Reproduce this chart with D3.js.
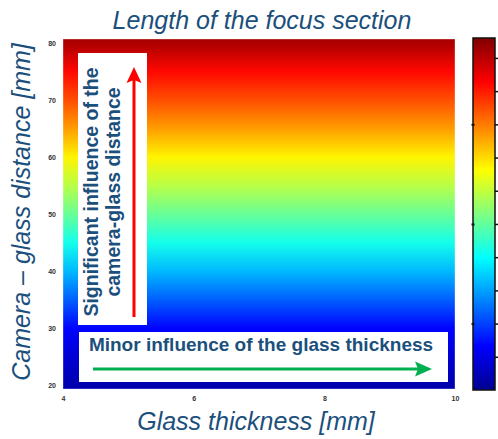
<!DOCTYPE html>
<html>
<head>
<meta charset="utf-8">
<script src="https://cdn.jsdelivr.net/npm/d3@7/dist/d3.min.js"></script>
<style>
  html, body { margin: 0; padding: 0; background: #fff; }
  svg { display: block; }
</style>
</head>
<body>
<svg id="chart" width="498" height="439"></svg>
<script>
// ---- data ----
const thicknessTicks = [4, 6, 8, 10];                 // glass thickness [mm]
const distanceTicks = [20, 30, 40, 50, 60, 70, 80];   // camera-glass distance [mm]
const distances = [20, 25, 30, 35, 40, 45, 50, 55, 60, 65, 70, 75, 80];
const focusLength = [6.9, 9.1, 11.8, 16.6, 21.3, 25.9, 30.3, 34.5, 38.7, 43.2, 47.3, 51.0, 55.7];
const colorDomain = [5, 58];
const colorTicksMajor = [15, 30, 45];
const colorTicksMinor = [10, 20, 25, 35, 40, 50, 55];
const jetStops = [0, 0.125, 0.375, 0.625, 0.875, 1];
const jetColors = ["#00008f", "#0000ff", "#00ffff", "#ffff00", "#ff0000", "#800000"];

const titleText = "Length of the focus section";
const xLabel = "Glass thickness [mm]";
const yLabel = "Camera \u2013 glass distance [mm]";
const note1 = ["Significant influence of the", "camera-glass distance"];
const note2 = "Minor influence of the glass thickness";

// ---- layout ----
const svg = d3.select("#chart");
const plot = { left: 63, right: 455, top: 39, bottom: 389 };
const textBlue = "#1b4f7c";
const font = "Liberation Sans, Arial, sans-serif";

const x = d3.scaleLinear().domain([4, 10]).range([plot.left, plot.right]);
const y = d3.scaleLinear().domain([19.3, 80.7]).range([plot.bottom, plot.top]);
const norm = d3.scaleLinear().domain(colorDomain).range([0, 1]);
const jet = d3.scaleLinear().domain(jetStops).range(jetColors).interpolate(d3.interpolateRgb).clamp(true);
const color = v => jet(norm(v));

const defs = svg.append("defs");

// heatmap gradient (vertical, from data rows)
const hg = defs.append("linearGradient").attr("id", "heat")
  .attr("x1", 0).attr("y1", 0).attr("x2", 0).attr("y2", 1);
const rows = distances.map((d, i) => ({ d, v: focusLength[i] }))
  .map(r => ({ ...r, off: (y(r.d) - plot.top) / (plot.bottom - plot.top) }))
  .sort((a, b) => a.off - b.off);
hg.selectAll("stop").data(rows).join("stop")
  .attr("offset", r => Math.max(0, Math.min(1, r.off)))
  .attr("stop-color", r => color(r.v));

svg.append("rect")
  .attr("x", plot.left).attr("y", plot.top)
  .attr("width", plot.right - plot.left).attr("height", plot.bottom - plot.top)
  .attr("fill", "url(#heat)")
  .attr("stroke", "rgba(255,255,255,0.35)").attr("stroke-width", 1);

// ---- colorbar ----
const cb = { left: 473, right: 495, top: 38, bottom: 390 };
const cy = d3.scaleLinear().domain(colorDomain).range([cb.bottom, cb.top]);
const cg = defs.append("linearGradient").attr("id", "cbar")
  .attr("x1", 0).attr("y1", 1).attr("x2", 0).attr("y2", 0);
cg.selectAll("stop").data(jetStops).join("stop")
  .attr("offset", d => d)
  .attr("stop-color", (d, i) => jetColors[i]);
svg.append("rect")
  .attr("x", cb.left).attr("y", cb.top)
  .attr("width", cb.right - cb.left).attr("height", cb.bottom - cb.top)
  .attr("fill", "url(#cbar)")
  .attr("stroke", "#111").attr("stroke-width", 1.5);

const cbAxisR = d3.axisRight(cy).tickValues(colorTicksMajor.concat(colorTicksMinor)).tickSize(3).tickFormat("");
const gR = svg.append("g").attr("transform", `translate(${cb.right},0)`).call(cbAxisR);
gR.select(".domain").remove();
gR.selectAll("line").attr("stroke", "#111").attr("stroke-width", 1.5);

const cbAxisL = d3.axisLeft(cy).tickValues(colorTicksMajor).tickSize(-3).tickFormat("");
const gL = svg.append("g").attr("transform", `translate(${cb.left - 1.5},0)`).call(cbAxisL);
gL.select(".domain").remove();
gL.selectAll("line").attr("stroke", "#111").attr("stroke-width", 2);

// ---- tick labels (small) ----
const yAxis = d3.axisLeft(y).tickValues(distanceTicks).tickSize(0).tickPadding(6).tickFormat(d3.format("d"));
const gy = svg.append("g").attr("transform", `translate(${plot.left - 1},0)`).call(yAxis);
gy.select(".domain").remove();
gy.selectAll("text").attr("font-family", font)
  .attr("font-size", 7).attr("font-weight", "bold").attr("fill", "#333");

const xAxis = d3.axisBottom(x).tickValues(thicknessTicks).tickSize(0).tickPadding(7).tickFormat(d3.format("d"));
const gx = svg.append("g").attr("transform", `translate(0,${plot.bottom})`).call(xAxis);
gx.select(".domain").remove();
gx.selectAll("text").attr("font-family", font)
  .attr("font-size", 7).attr("font-weight", "bold").attr("fill", "#333");

// ---- titles ----
svg.append("text").attr("x", 262).attr("y", 29)
  .attr("text-anchor", "middle").attr("font-family", font).attr("font-style", "italic")
  .attr("font-size", 25).attr("fill", textBlue).text(titleText);
svg.append("text").attr("x", 256).attr("y", 430)
  .attr("text-anchor", "middle").attr("font-family", font).attr("font-style", "italic")
  .attr("font-size", 25).attr("fill", textBlue).text(xLabel);
svg.append("text").attr("transform", "translate(30,212) rotate(-90)")
  .attr("text-anchor", "middle").attr("font-family", font).attr("font-style", "italic")
  .attr("font-size", 25).attr("fill", textBlue).text(yLabel);

// ---- annotation box 1 (vertical) ----
svg.append("rect").attr("x", 78).attr("y", 53).attr("width", 69).attr("height", 272).attr("fill", "#fff");
note1.forEach((t, i) => {
  svg.append("text").attr("transform", `translate(${98 + i * 22},192) rotate(-90)`)
    .attr("text-anchor", "middle").attr("font-family", font).attr("font-weight", "bold")
    .attr("font-size", 19.5).attr("fill", textBlue).text(t);
});
svg.append("line").attr("x1", 134).attr("y1", 317).attr("x2", 134).attr("y2", 80)
  .attr("stroke", "#ff0000").attr("stroke-width", 3);
svg.append("path").attr("d", "M134,67 L141.5,83 L134,80 L126.5,83 Z").attr("fill", "#ff0000");

// ---- annotation box 2 (horizontal) ----
svg.append("rect").attr("x", 79).attr("y", 332).attr("width", 369).attr("height", 50).attr("fill", "#fff");
svg.append("text").attr("x", 261).attr("y", 351)
  .attr("text-anchor", "middle").attr("font-family", font).attr("font-weight", "bold")
  .attr("font-size", 19).attr("fill", textBlue).text(note2);
svg.append("line").attr("x1", 93).attr("y1", 369).attr("x2", 418).attr("y2", 369)
  .attr("stroke", "#00b050").attr("stroke-width", 3);
svg.append("path").attr("d", "M432,369 L415,361.5 L418,369 L415,376.5 Z").attr("fill", "#00b050");
</script>
</body>
</html>
